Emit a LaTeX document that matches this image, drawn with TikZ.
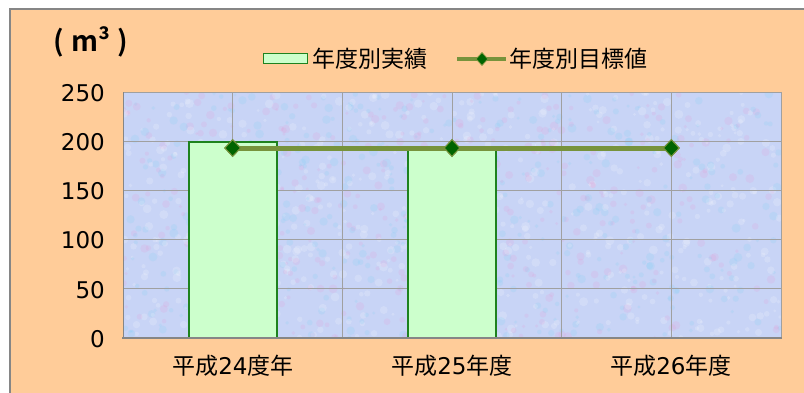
\documentclass[tikz,border=0pt]{standalone}
\usepackage{fontspec}
\setmainfont{Noto Sans CJK JP}
\newfontfamily\jpb[BoldFont={Noto Sans CJK JP Bold}]{Noto Sans CJK JP}
\newfontfamily\digf{DejaVu Sans}
\definecolor{peach}{RGB}{255,204,153}
\definecolor{plotbg}{RGB}{200,212,246}
\definecolor{barfill}{RGB}{204,255,204}
\definecolor{baredge}{RGB}{30,130,30}
\definecolor{olive}{RGB}{119,147,60}
\definecolor{dgreen}{RGB}{0,100,0}
\definecolor{gridc}{RGB}{160,160,160}
\definecolor{axisc}{RGB}{134,134,134}
\tikzset{
  ylab/.style={anchor=east,font=\digf\fontsize{23}{23}\selectfont,inner sep=0pt},
  xlab/.style={anchor=center,font=\fontsize{23}{23}\selectfont,inner sep=0pt},
  legtext/.style={anchor=west,font=\fontsize{23}{23}\selectfont,inner sep=0pt},
  bar/.style={draw=baredge,fill=barfill,line width=1.3pt},
  gline/.style={draw=gridc,line width=1pt},
  target/.style={olive,line width=5pt},
  dmark/.style={diamond,fill=dgreen,draw=olive,line width=1pt,minimum width=16pt,minimum height=17pt,inner sep=0pt},
}
\usetikzlibrary{shapes.geometric}
\begin{document}
\begin{tikzpicture}[x=1pt,y=-1pt]
\useasboundingbox (0,0) rectangle (804,392);
\fill[white] (0,0) rectangle (804,392);
\fill[peach] (10,9) rectangle (810,400);
\draw[axisc,line width=2pt] (10,400) -- (10,9) -- (810,9);
% plot area
\fill[plotbg] (123,92) rectangle (781,338);
\begin{scope}
\clip (123,92) rectangle (781,338);
\pgfmathsetseed{7}
\foreach \i in {1,...,1400}{
  \pgfmathsetmacro{\px}{123+rnd*658}
  \pgfmathsetmacro{\py}{92+rnd*246}
  \pgfmathsetmacro{\pr}{1.5+rnd*3}
  \pgfmathsetmacro{\pc}{rnd}
  \ifdim\pc pt<0.3pt
    \fill[magenta!50,opacity=0.12] (\px,\py) circle (\pr);
  \else\ifdim\pc pt<0.6pt
    \fill[cyan!60,opacity=0.14] (\px,\py) circle (\pr);
  \else
    \fill[white,opacity=0.18] (\px,\py) circle (\pr);
  \fi\fi
}
\end{scope}
% grid
\foreach \v in {0,...,5}{
  \draw[gline] (123,{338-\v*49.2}) -- (781,{338-\v*49.2});
}
\foreach \k in {1,...,6}{
  \draw[gline] ({123+\k*109.67},92) -- ({123+\k*109.67},338);
}
% bars
\draw[bar] (189,338) rectangle (277,142);
\draw[bar] (408,338) rectangle (496,150);
% axes
\draw[axisc,line width=1pt] (123,92) -- (123,338);
\draw[axisc,line width=2pt] (122,338) -- (782,338);
% target line
\node[dmark] (d1) at (232.7,148) {};
\node[dmark] (d2) at (452,148) {};
\node[dmark] (d3) at (671.3,148) {};
\draw[target] (d1.center) -- (d2.center) -- (d3.center);
\node[dmark] at (d1) {};
\node[dmark] at (d2) {};
\node[dmark] at (d3) {};
% y labels
\foreach \v/\t in {0/0,1/50,2/100,3/150,4/200,5/250}{
  \node[ylab] (y\v) at (105,{339-\v*49.2}) {\t};
}
% x labels
\node[xlab] (x1) at (233,366) {平成{\digf 24}度年};
\node[xlab] (x2) at (452,366) {平成{\digf 25}年度};
\node[xlab] (x3) at (671,366) {平成{\digf 26}年度};
% unit
\node[inner sep=0pt,font=\jpb\bfseries\fontsize{28}{28}\selectfont] (unit) at (91,42) {(\hspace{7pt}m³\hspace{8pt})};
% legend
\draw[draw=baredge,fill=barfill,line width=1pt] (263,53) rectangle (307,63);
\node[legtext] (l1) at (312,59) {年度別実績};
\coordinate (la) at (457,59);
\coordinate (lb) at (506,59);
\draw[olive,line width=4.5pt] (la) -- (lb);
\node[diamond,fill=dgreen,draw=olive,line width=0.8pt,minimum width=12pt,minimum height=13pt,inner sep=0pt] (lm) at (482,59) {};
\node[legtext] (l2) at (509,59) {年度別目標値};
\end{tikzpicture}
\end{document}
